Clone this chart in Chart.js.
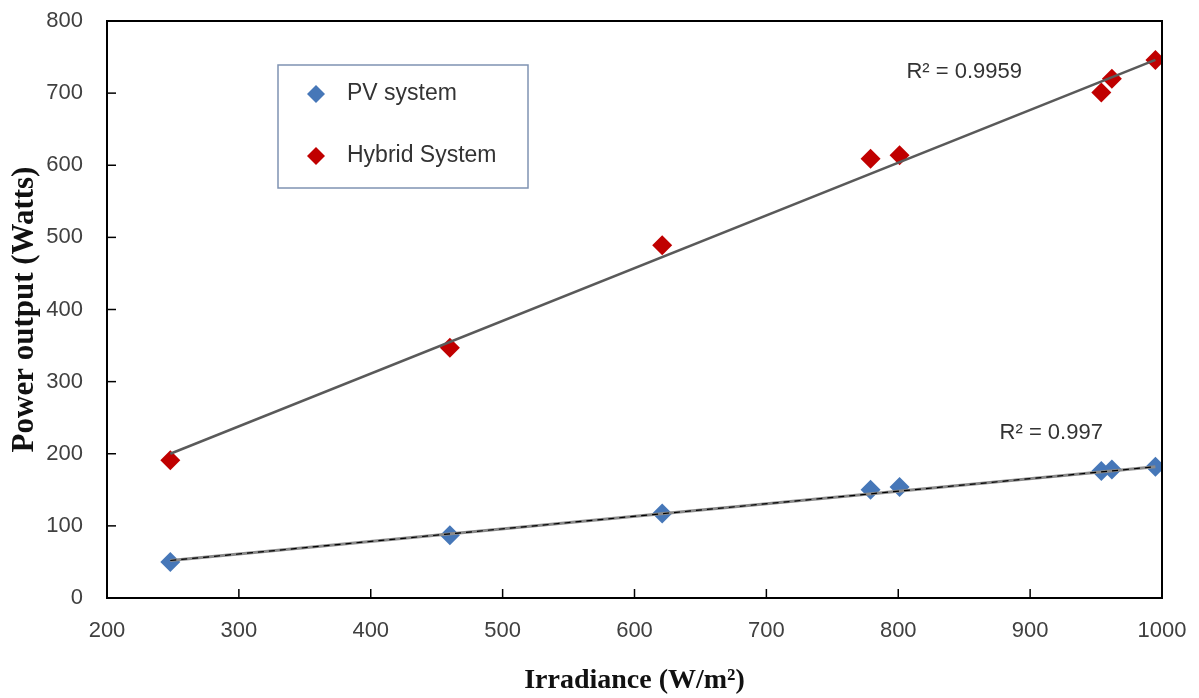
<!DOCTYPE html>
<html>
<head>
<meta charset="utf-8">
<script src="https://cdn.jsdelivr.net/npm/chart.js@4"></script>
<style>
  html, body { margin: 0; padding: 0; background: #fff; }
  #wrap { width: 1199px; height: 698px; position: relative; }
</style>
</head>
<body>
<div id="wrap"><canvas id="chart"></canvas></div>
<script>
// irradiance (W/m2) readings
const irradiance = [248, 460, 621, 779, 801, 954, 962, 995];
// power output (W)
const pvPower = [50, 87, 117, 150, 154, 176, 178, 182];
const hybridPower = [191, 347, 489, 609, 614, 701, 720, 746];

// trendline end points
const trendX = [248, 995];
const pvTrendY = [52, 182];
const hybridTrendY = [200, 746];

const r2Labels = [
  { text: "R\u00b2 = 0.9959", x: 850, y: 729 },
  { text: "R\u00b2 = 0.997", x: 916, y: 229 },
];

const legendItems = [
  { label: "PV system", color: "#4677b8" },
  { label: "Hybrid System", color: "#c00000" },
];

const TICK_FONT = { family: "'Liberation Sans', Arial, sans-serif", size: 22 };
const SERIF = "'Liberation Serif', 'Times New Roman', serif";

function pts(xs, ys) {
  return xs.map((x, i) => ({ x: x, y: ys[i] }));
}

function diamond(ctx, x, y, r, color) {
  ctx.beginPath();
  ctx.moveTo(x, y - r);
  ctx.lineTo(x + r, y);
  ctx.lineTo(x, y + r);
  ctx.lineTo(x - r, y);
  ctx.closePath();
  ctx.fillStyle = color;
  ctx.fill();
}

const framePlugin = {
  id: "frame",
  afterDraw(chart) {
    const { ctx, chartArea: a, scales } = chart;
    ctx.save();
    ctx.strokeStyle = "#000";
    ctx.lineWidth = 2;
    // top and right frame
    ctx.beginPath();
    ctx.moveTo(a.left, a.top);
    ctx.lineTo(a.right, a.top);
    ctx.lineTo(a.right, a.bottom);
    ctx.stroke();
    // inward tick marks
    ctx.lineWidth = 1.5;
    scales.y.ticks.forEach((t) => {
      const py = scales.y.getPixelForValue(t.value);
      ctx.beginPath();
      ctx.moveTo(a.left, py);
      ctx.lineTo(a.left + 9, py);
      ctx.stroke();
    });
    scales.x.ticks.forEach((t) => {
      const px = scales.x.getPixelForValue(t.value);
      ctx.beginPath();
      ctx.moveTo(px, a.bottom);
      ctx.lineTo(px, a.bottom - 9);
      ctx.stroke();
    });

    // R2 labels
    ctx.fillStyle = "#333";
    ctx.font = "22px 'Liberation Sans', Arial, sans-serif";
    ctx.textAlign = "center";
    ctx.textBaseline = "middle";
    r2Labels.forEach((l) => {
      ctx.fillText(l.text, scales.x.getPixelForValue(l.x), scales.y.getPixelForValue(l.y));
    });

    // legend box
    const lx = a.left + 171, ly = a.top + 44, lw = 250, lh = 123;
    ctx.fillStyle = "#fff";
    ctx.fillRect(lx, ly, lw, lh);
    ctx.strokeStyle = "#7f93b2";
    ctx.lineWidth = 1.5;
    ctx.strokeRect(lx, ly, lw, lh);
    ctx.textAlign = "left";
    ctx.font = "23px 'Liberation Sans', Arial, sans-serif";
    legendItems.forEach((it, i) => {
      const cy = ly + 29 + i * 62;
      diamond(ctx, lx + 38, cy, 9, it.color);
      ctx.fillStyle = "#333";
      ctx.fillText(it.label, lx + 69, cy);
    });
    ctx.restore();
  },
};

new Chart(document.getElementById("chart"), {
  type: "scatter",
  data: {
    datasets: [
      {
        label: "PV trend", type: "line", data: pts(trendX, pvTrendY),
        borderColor: "#000", borderWidth: 1.2, borderDash: [6, 5], pointRadius: 0, order: 0,
      },
      {
        label: "PV trend base", type: "line", data: pts(trendX, pvTrendY),
        borderColor: "#8a8a8a", borderWidth: 3, pointRadius: 0, order: 1,
      },
      {
        label: "Hybrid trend", type: "line", data: pts(trendX, hybridTrendY),
        borderColor: "#5a5a5a", borderWidth: 2.5, pointRadius: 0, order: 1,
      },
      {
        label: "PV system", data: pts(irradiance, pvPower),
        pointStyle: "rectRot", pointRadius: 10, pointHoverRadius: 10,
        backgroundColor: "#4677b8", borderColor: "#4677b8", borderWidth: 0, order: 3,
      },
      {
        label: "Hybrid System", data: pts(irradiance, hybridPower),
        pointStyle: "rectRot", pointRadius: 10, pointHoverRadius: 10,
        backgroundColor: "#c00000", borderColor: "#c00000", borderWidth: 0, order: 3,
      },
    ],
  },
  options: {
    responsive: true, maintainAspectRatio: false, animation: false,
    layout: { padding: { left: 6, top: 21, right: 37, bottom: 0 } },
    plugins: { legend: { display: false }, tooltip: { enabled: false } },
    scales: {
      x: {
        type: "linear", min: 200, max: 1000,
        ticks: { stepSize: 100, color: "#404040", font: TICK_FONT, padding: 20, maxRotation: 0,
                 callback: (v) => String(v) },
        grid: { display: false, drawTicks: false },
        border: { color: "#000", width: 2 },
        title: { display: true, text: "Irradiance (W/m\u00b2)", color: "#111",
                 font: { family: SERIF, size: 28, weight: "bold" }, padding: { top: 20, bottom: 0 } },
        afterFit(scale) {
          scale.height = 100;
          scale.paddingLeft = 0;
          scale.paddingRight = 0;
        },
      },
      y: {
        min: 0, max: 800,
        ticks: { stepSize: 100, color: "#404040", font: TICK_FONT, padding: 24 },
        grid: { display: false, drawTicks: false },
        border: { color: "#000", width: 2 },
        title: { display: true, text: "Power output (Watts)", color: "#111",
                 font: { family: SERIF, size: 31, weight: "bold" }, padding: { top: 0, bottom: 0 } },
        afterFit(scale) {
          scale.width = 101;
          scale.paddingTop = 0;
          scale.paddingBottom = 0;
        },
      },
    },
  },
  plugins: [framePlugin],
});
</script>
</body>
</html>
